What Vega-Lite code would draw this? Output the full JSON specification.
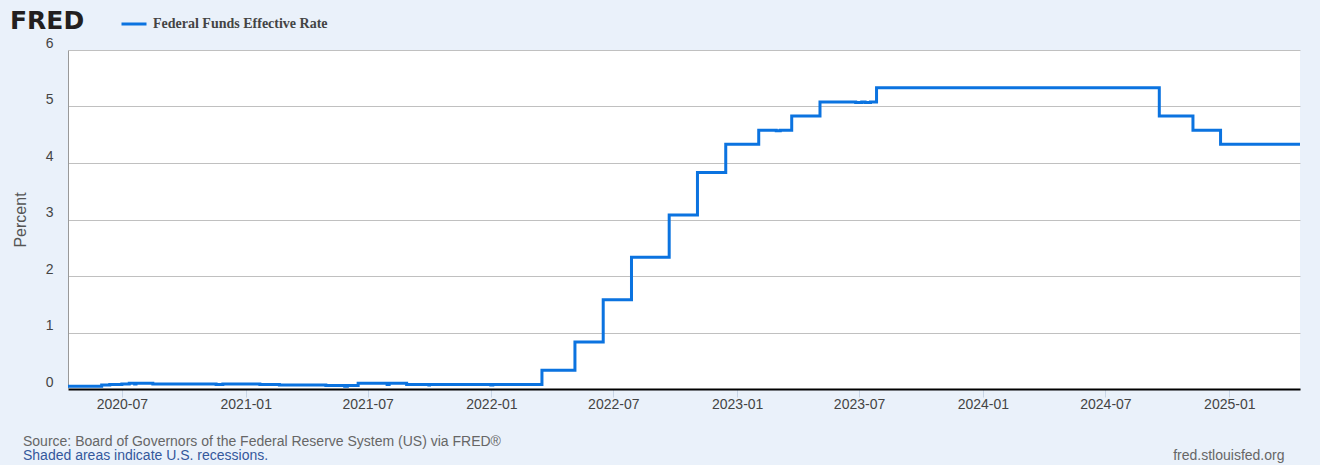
{
  "$schema": "https://vega.github.io/schema/vega-lite/v6.json",
  "width": 1232,
  "height": 339,
  "autosize": {"type": "none"},
  "padding": {"left": 68, "top": 50, "right": 20, "bottom": 76},
  "background": "#EAF1FA",
  "view": {"fill": "#ffffff", "stroke": null},
  "config": {
    "font": "Liberation Sans"
  },
  "title": {
    "text": "Source: Board of Governors of the Federal Reserve System (US) via FRED®",
    "subtitle": "Shaded areas indicate U.S. recessions.",
    "orient": "bottom",
    "anchor": "start",
    "frame": "group",
    "offset": 10,
    "dx": -45,
    "dy": -37,
    "font": "Liberation Sans",
    "fontSize": 14,
    "fontWeight": "normal",
    "color": "#666666",
    "subtitleFont": "Liberation Sans",
    "subtitleFontSize": 14,
    "subtitleColor": "#34589C",
    "subtitlePadding": 0
  },
  "data": {
    "values": [
      {"date": "2020-04-12", "value": 0.05},
      {"date": "2020-06-01", "value": 0.07},
      {"date": "2020-06-13", "value": 0.08},
      {"date": "2020-07-01", "value": 0.09},
      {"date": "2020-07-12", "value": 0.10},
      {"date": "2020-07-20", "value": 0.09},
      {"date": "2020-07-22", "value": 0.10},
      {"date": "2020-08-16", "value": 0.09},
      {"date": "2020-08-20", "value": 0.09},
      {"date": "2020-11-18", "value": 0.08},
      {"date": "2020-11-28", "value": 0.09},
      {"date": "2021-01-22", "value": 0.08},
      {"date": "2021-02-16", "value": 0.08},
      {"date": "2021-02-20", "value": 0.07},
      {"date": "2021-04-01", "value": 0.07},
      {"date": "2021-04-30", "value": 0.06},
      {"date": "2021-05-01", "value": 0.06},
      {"date": "2021-05-28", "value": 0.05},
      {"date": "2021-06-01", "value": 0.06},
      {"date": "2021-06-17", "value": 0.10},
      {"date": "2021-07-30", "value": 0.08},
      {"date": "2021-08-02", "value": 0.10},
      {"date": "2021-08-28", "value": 0.08},
      {"date": "2021-09-30", "value": 0.07},
      {"date": "2021-10-01", "value": 0.08},
      {"date": "2021-12-31", "value": 0.07},
      {"date": "2022-01-03", "value": 0.08},
      {"date": "2022-03-17", "value": 0.33},
      {"date": "2022-05-05", "value": 0.83},
      {"date": "2022-06-16", "value": 1.58},
      {"date": "2022-07-28", "value": 2.33},
      {"date": "2022-09-22", "value": 3.08},
      {"date": "2022-11-03", "value": 3.83},
      {"date": "2022-12-15", "value": 4.33},
      {"date": "2023-02-02", "value": 4.58},
      {"date": "2023-02-28", "value": 4.57},
      {"date": "2023-03-06", "value": 4.58},
      {"date": "2023-03-23", "value": 4.83},
      {"date": "2023-05-04", "value": 5.08},
      {"date": "2023-06-26", "value": 5.07},
      {"date": "2023-07-05", "value": 5.08},
      {"date": "2023-07-10", "value": 5.07},
      {"date": "2023-07-18", "value": 5.08},
      {"date": "2023-07-27", "value": 5.33},
      {"date": "2024-09-19", "value": 4.83},
      {"date": "2024-11-08", "value": 4.58},
      {"date": "2024-12-19", "value": 4.33},
      {"date": "2025-04-16", "value": 4.33}
    ]
  },
  "mark": {"type": "line", "interpolate": "step-after", "strokeWidth": 3, "clip": true},
  "encoding": {
    "x": {
      "field": "date",
      "type": "temporal",
      "scale": {
        "type": "utc",
        "domain": [
          {"year": 2020, "month": 4, "date": 12, "utc": true},
          {"year": 2025, "month": 4, "date": 16, "utc": true}
        ]
      },
      "axis": {
        "title": "fred.stlouisfed.org",
        "titleX": 1216,
        "titleY": 66,
        "titleAlign": "right",
        "titleBaseline": "middle",
        "titleAnchor": null,
        "titleFont": "Liberation Sans",
        "titleFontSize": 14,
        "titleFontWeight": "normal",
        "titleColor": "#666666",
        "labelExpr": "utcFormat(datum.value, '%Y-%m')",
        "tickCount": {"interval": "month", "step": 6},
        "grid": false,
        "domain": true,
        "domainColor": "#000000",
        "domainWidth": 2,
        "ticks": true,
        "tickColor": "#C8D5E6",
        "tickSize": 8,
        "tickWidth": 1,
        "labelFont": "Liberation Sans",
        "labelFontSize": 14,
        "labelColor": "#444444",
        "labelPadding": 0,
        "labelFlush": false,
        "labelOverlap": false
      }
    },
    "y": {
      "field": "value",
      "type": "quantitative",
      "scale": {"domain": [0, 6], "nice": false, "zero": true},
      "axis": {
        "title": "Percent",
        "titleFont": "Liberation Sans",
        "titleFontSize": 16,
        "titleFontWeight": "normal",
        "titleColor": "#555555",
        "titleX": -48,
        "titleAngle": -90,
        "titleAlign": "center",
        "titleBaseline": "middle",
        "values": [0, 1, 2, 3, 4, 5, 6],
        "format": "d",
        "grid": true,
        "gridColor": "#C0C0C0",
        "gridWidth": 1.2,
        "domain": true,
        "domainColor": "#999999",
        "domainWidth": 1,
        "ticks": false,
        "labelFont": "Liberation Sans",
        "labelFontSize": 14,
        "labelColor": "#444444",
        "labelPadding": 15,
        "labelOffset": -7
      }
    },
    "color": {
      "datum": "Federal Funds Effective Rate",
      "type": "nominal",
      "scale": {"range": ["#0B73E0"]},
      "legend": {
        "orient": "none",
        "legendX": -58,
        "legendY": -40,
        "title": "FRED",
        "titleOrient": "left",
        "titleFont": "DejaVu Sans",
        "titleFontSize": 25,
        "titleFontWeight": "bold",
        "titleColor": "#231F20",
        "titlePadding": 35,
        "padding": 0,
        "symbolType": "stroke",
        "symbolStrokeWidth": 3,
        "symbolSize": 625,
        "labelFont": "Liberation Serif",
        "labelFontWeight": "bold",
        "labelFontSize": 14,
        "labelLimit": 400,
        "labelColor": "#444444",
        "labelOffset": 5
      }
    }
  }
}
